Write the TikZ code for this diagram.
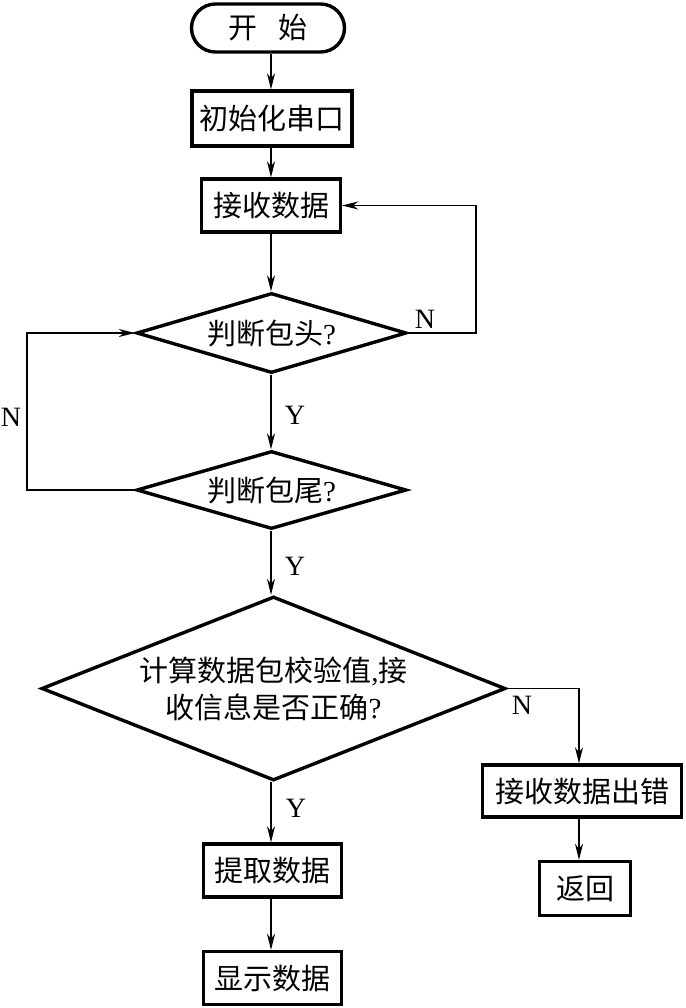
\documentclass[tikz,border=0pt]{standalone}
\usepackage{fontspec}
\setmainfont{Liberation Serif}
\newfontfamily\cjk{Noto Sans CJK SC}
\usetikzlibrary{shapes.geometric,arrows.meta}
\begin{document}
\begin{tikzpicture}[x=1pt,y=-1pt,
  box/.style={draw, line width=3.4pt, inner sep=0pt, font=\cjk\fontsize{29}{35}\selectfont},
  term/.style={box, rounded corners=24pt},
  dia/.style={draw, diamond, line width=3.4pt, inner sep=0pt, align=center, font=\cjk\fontsize{29}{37}\selectfont},
  conn/.style={line width=1.6pt, -{Stealth[length=16pt,width=8pt,inset=5pt]}},
  lab/.style={font=\fontsize{28}{28}\selectfont, inner sep=0pt}]
\useasboundingbox (0,0) rectangle (685,1008);

\node[term, minimum width=153pt, minimum height=48pt] (start) at (268,28) {开\hspace{0.75em}始};
\node[box, minimum width=160pt, minimum height=55pt] (init) at (272,118.5) {初始化串口};
\node[box, minimum width=139pt, minimum height=53pt] (recv) at (271,205.5) {接收数据};
\node[dia, shape aspect=3.3, minimum width=270pt, minimum height=80pt] (d1) at (271.5,333) {判断包头{\rmfamily ?}};
\node[dia, shape aspect=3.3, minimum width=270pt, minimum height=78pt] (d2) at (271.5,490) {判断包尾{\rmfamily ?}};
\node[dia, shape aspect=2.5, minimum width=464pt, minimum height=184pt] (d3) at (273.5,688.5) {计算数据包校验值{\rmfamily ,}接\\收信息是否正确{\rmfamily ?}};
\node[box, minimum width=199pt, minimum height=52pt] (err) at (582,791) {接收数据出错};
\node[box, minimum width=91pt, minimum height=54pt] (ret) at (585,888.5) {返回};
\node[box, minimum width=138pt, minimum height=53pt] (ext) at (272.5,870.5) {提取数据};
\node[box, minimum width=138pt, minimum height=53pt] (show) at (272.5,978) {显示数据};

\coordinate (r1) at (476,333);
\coordinate (l1) at (27,490);
\coordinate (r3) at (579,688.5);

\draw[conn] (271,0 |- start.south) -- (271,0 |- init.north);
\draw[conn] (271,0 |- init.south) -- (271,0 |- recv.north);
\draw[conn] (271,0 |- recv.south) -- (271,0 |- d1.north);
\draw[conn] (d1.east) -- (r1) |- (recv.east);
\draw[conn] (271,0 |- d1.south) -- (271,0 |- d2.north);
\draw[conn] (d2.west) -- (l1) |- (d1.west);
\draw[conn] (271,0 |- d2.south) -- (271,0 |- d3.north);
\draw[conn] (d3.east) -- (r3) -- (r3 |- err.north);
\draw[conn] (271,0 |- d3.south) -- (271,0 |- ext.north);
\draw[conn] (271,0 |- ext.south) -- (271,0 |- show.north);
\draw[conn] (579,0 |- err.south) -- (579,0 |- ret.north);

\node[lab] (n1) at (425,319) {N};
\node[lab] (y1) at (295,415) {Y};
\node[lab] (n2) at (11,417) {N};
\node[lab] (y2) at (295,566) {Y};
\node[lab] (n3) at (522,705) {N};
\node[lab] (y3) at (296,808) {Y};
\end{tikzpicture}
\end{document}
